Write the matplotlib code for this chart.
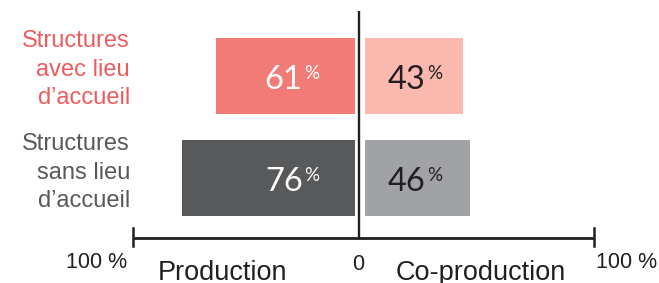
import matplotlib
matplotlib.use('Agg')
import matplotlib.pyplot as plt

# Data
groups = ['Structures\navec lieu\nd\u2019accueil', 'Structures\nsans lieu\nd\u2019accueil']
production = [61, 76]
coproduction = [43, 46]

# Colors
prod_colors = ['#F27B77', '#58595B']
coprod_colors = ['#FAB8AE', '#A1A2A6']
label_colors = ['#EF5A5E', '#58595B']
num_colors_prod = ['white', 'white']
num_colors_coprod = ['#231F20', '#231F20']

W, H = 659, 283
fig = plt.figure(figsize=(W / 100, H / 100), dpi=100)

y_top, y_bot = 11, 237
ylim = (1.578, -0.637)


def px_axes(x0, x1):
    return fig.add_axes([x0 / W, (H - y_bot) / H, (x1 - x0) / W, (y_bot - y_top) / H])


ax_l = px_axes(127, 355)
ax_r = px_axes(365, 593)
for ax in (ax_l, ax_r):
    ax.set_ylim(*ylim)
    ax.axis('off')
ax_l.set_xlim(100, 0)
ax_r.set_xlim(0, 100)

ypos = list(range(len(groups)))
ax_l.barh(ypos, production, height=0.745, color=prod_colors)
ax_r.barh(ypos, coproduction, height=0.745, color=coprod_colors)

numfont = 'Lato'
for i, v in enumerate(production):
    ax_l.text(23.0, i + 0.13, str(v), ha='right', va='baseline', fontsize=23.5,
              color=num_colors_prod[i], family=numfont)
    ax_l.text(22.4, i + 0.03, '%', ha='left', va='baseline', fontsize=13.5,
              color=num_colors_prod[i], family=numfont)
for i, v in enumerate(coproduction):
    ax_r.text(26.6, i + 0.13, str(v), ha='right', va='baseline', fontsize=23.5,
              color=num_colors_coprod[i], family=numfont)
    ax_r.text(27.2, i + 0.03, '%', ha='left', va='baseline', fontsize=13.5,
              color=num_colors_coprod[i], family=numfont)

# overlay in pixel coordinates for axis lines and labels
ov = fig.add_axes([0, 0, 1, 1])
ov.set_xlim(0, W)
ov.set_ylim(H, 0)
ov.axis('off')
ov.patch.set_alpha(0)

lc = '#231F20'
ov.plot([133, 594], [237.5, 237.5], color=lc, lw=2.0, solid_capstyle='butt')
ov.plot([358.5, 358.5], [11, 238], color=lc, lw=1.7, solid_capstyle='butt')
ov.plot([133, 133], [228, 246], color=lc, lw=1.8)
ov.plot([594, 594], [228, 246], color=lc, lw=1.8)

lab = 'Liberation Sans'
label_base = [104, 207]
for i, g in enumerate(groups):
    ov.text(130, label_base[i], g, ha='right', va='baseline', fontsize=17,
            color=label_colors[i], family=lab, linespacing=1.38)

ov.text(127, 263, '100 %', ha='right', va='center', fontsize=15.5, color=lc, family=lab)
ov.text(596, 262, '100 %', ha='left', va='center', fontsize=15.5, color=lc, family=lab)
ov.text(358, 265, '0', ha='center', va='center', fontsize=15.5, color=lc, family=lab)
ov.text(222, 280, 'Production', ha='center', va='baseline', fontsize=19.5, color=lc, family=lab)
ov.text(481, 280, 'Co-production', ha='center', va='baseline', fontsize=19.5, color=lc, family=lab)

fig.savefig('out.png', dpi=100)
